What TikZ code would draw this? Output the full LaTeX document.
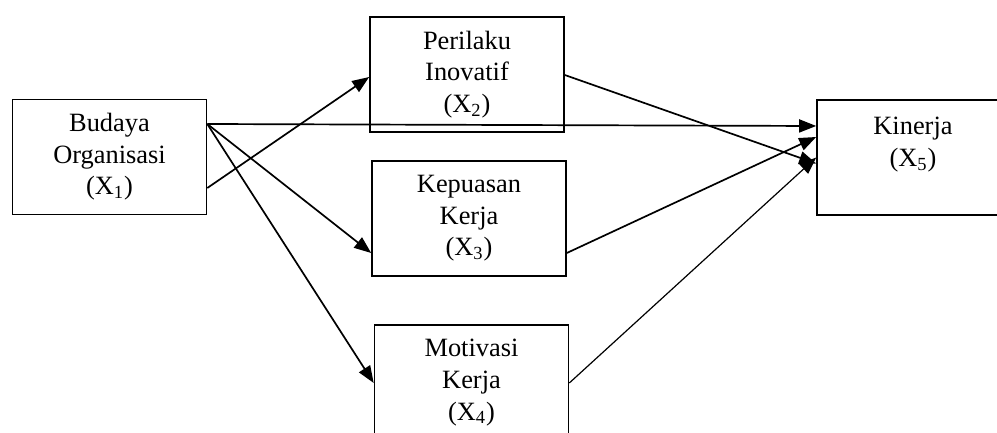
\documentclass[tikz,border=0pt]{standalone}
\usepackage{fontspec}
\setmainfont{Liberation Serif}
\usetikzlibrary{arrows.meta,calc}
\begin{document}
\begin{tikzpicture}[x=0.5pt,y=-0.5pt,
  varbox/.style={draw,line width=0.8pt,minimum width=97pt,minimum height=57.5pt,
    inner sep=0pt,align=center,font=\fontsize{13.2pt}{15.8pt}\selectfont},
  conn/.style={line width=0.85pt,-{Triangle[length=8.5pt,width=6.5pt]}},
  thinconn/.style={line width=0.6pt,-{Triangle[length=8.5pt,width=6.5pt]}}]
\clip (0,0) rectangle (997,433);
\node[varbox] (x1) at (109.5,157) {Budaya\\Organisasi\\(X\textsubscript{1})};
\node[varbox] (x2) at (467,74.5) {Perilaku\\Inovatif\\(X\textsubscript{2})};
\node[varbox] (x3) at (469,218.5) {Kepuasan\\Kerja\\(X\textsubscript{3})};
\node[varbox] (x4) at (471.5,382.5) {Motivasi\\Kerja\\(X\textsubscript{4})};
\node[varbox,minimum width=96pt] (x5) at (913,157.5) {Kinerja\\(X\textsubscript{5})\\\mbox{}};
\coordinate (x1top) at ($(x1.east)+(0,-33)$);
\draw[conn] ($(x1.east)+(0,31)$) -- ($(x2.west)+(0,2.5)$);
\draw[conn] (x1top) -- ($(x5.west)+(0,-31.5)$);
\draw[conn] (x1top) -- ($(x3.west)+(0,34.5)$);
\draw[conn] (x1top) -- ($(x4.west)+(0,0.5)$);
\draw[conn] ($(x2.east)+(0,0.5)$) -- ($(x5.west)+(0,6)$);
\draw[conn] ($(x3.east)+(0,34.5)$) -- ($(x5.west)+(0,-20.5)$);
\draw[thinconn] ($(x4.east)+(0,0.5)$) -- (x5.west);
\end{tikzpicture}
\end{document}
